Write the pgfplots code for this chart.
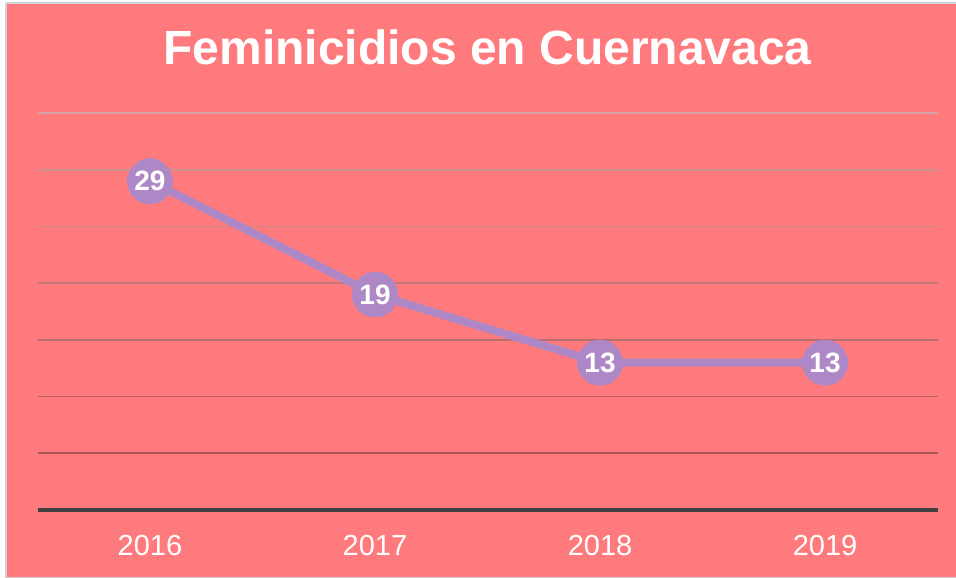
\documentclass[border=0pt]{standalone}
\usepackage{pgfplots}
\pgfplotsset{compat=1.18}
\usepackage{fontspec}
\setmainfont{Liberation Sans}

\definecolor{bgpink}{RGB}{255,122,125}
\definecolor{linepurple}{RGB}{174,136,198}
\definecolor{gridtop}{RGB}{214,158,158}
\definecolor{gridbot}{RGB}{172,84,88}
\definecolor{axisdark}{RGB}{64,64,64}

\begin{document}
\begin{tikzpicture}
% page and background (1px = 0.5pt)
\path[use as bounding box] (-18.75pt,-33.5pt) rectangle (459.25pt,255pt);
\fill[bgpink, draw=gray!35, line width=1pt] (-15.75pt,-34pt) rectangle (460pt,253.5pt);
\begin{axis}[
    at={(0pt,0pt)}, anchor=south west,
    scale only axis,
    width=450pt, height=198.5pt,
    xmin=-0.5, xmax=3.5,
    ymin=0, ymax=35,
    axis line style={draw=none},
    axis x line*=bottom,
    axis y line=none,
    xtick={0,1,2,3},
    xticklabels={2016,2017,2018,2019},
    major tick length=0pt,
    xticklabel style={font=\fontsize{14.5}{16}\selectfont, text=white,
        anchor=center, yshift=-18pt},
    title={\bfseries Feminicidios en Cuernavaca},
    title style={font=\fontsize{24}{28}\selectfont, text=white,
        at={(0.5,1)}, anchor=center, yshift=27pt},
    /pgf/number format/assume math mode=true,
    clip=false,
]
\pgfplotsinvokeforeach{1,...,7}{
    \pgfmathtruncatemacro{\mix}{(7-#1)*100/6}
    \edef\temp{\noexpand\draw[gridbot!\mix!gridtop, line width=0.9pt]
        (axis cs:-0.5,{#1*5}) -- (axis cs:3.5,{#1*5});}
    \temp
}
\draw[axisdark, line width=2pt] (axis cs:-0.5,0) -- (axis cs:3.5,0);
\addplot[color=linepurple, line width=4pt, mark=*,
    mark size=11.25pt, mark options={fill=linepurple, draw=linepurple, line width=0pt},
    nodes near coords,
    every node near coord/.append style={anchor=center, text=white,
        font=\fontsize{14}{16}\selectfont\bfseries}]
    coordinates {(0,29) (1,19) (2,13) (3,13)};
\end{axis}
\end{tikzpicture}
\end{document}
